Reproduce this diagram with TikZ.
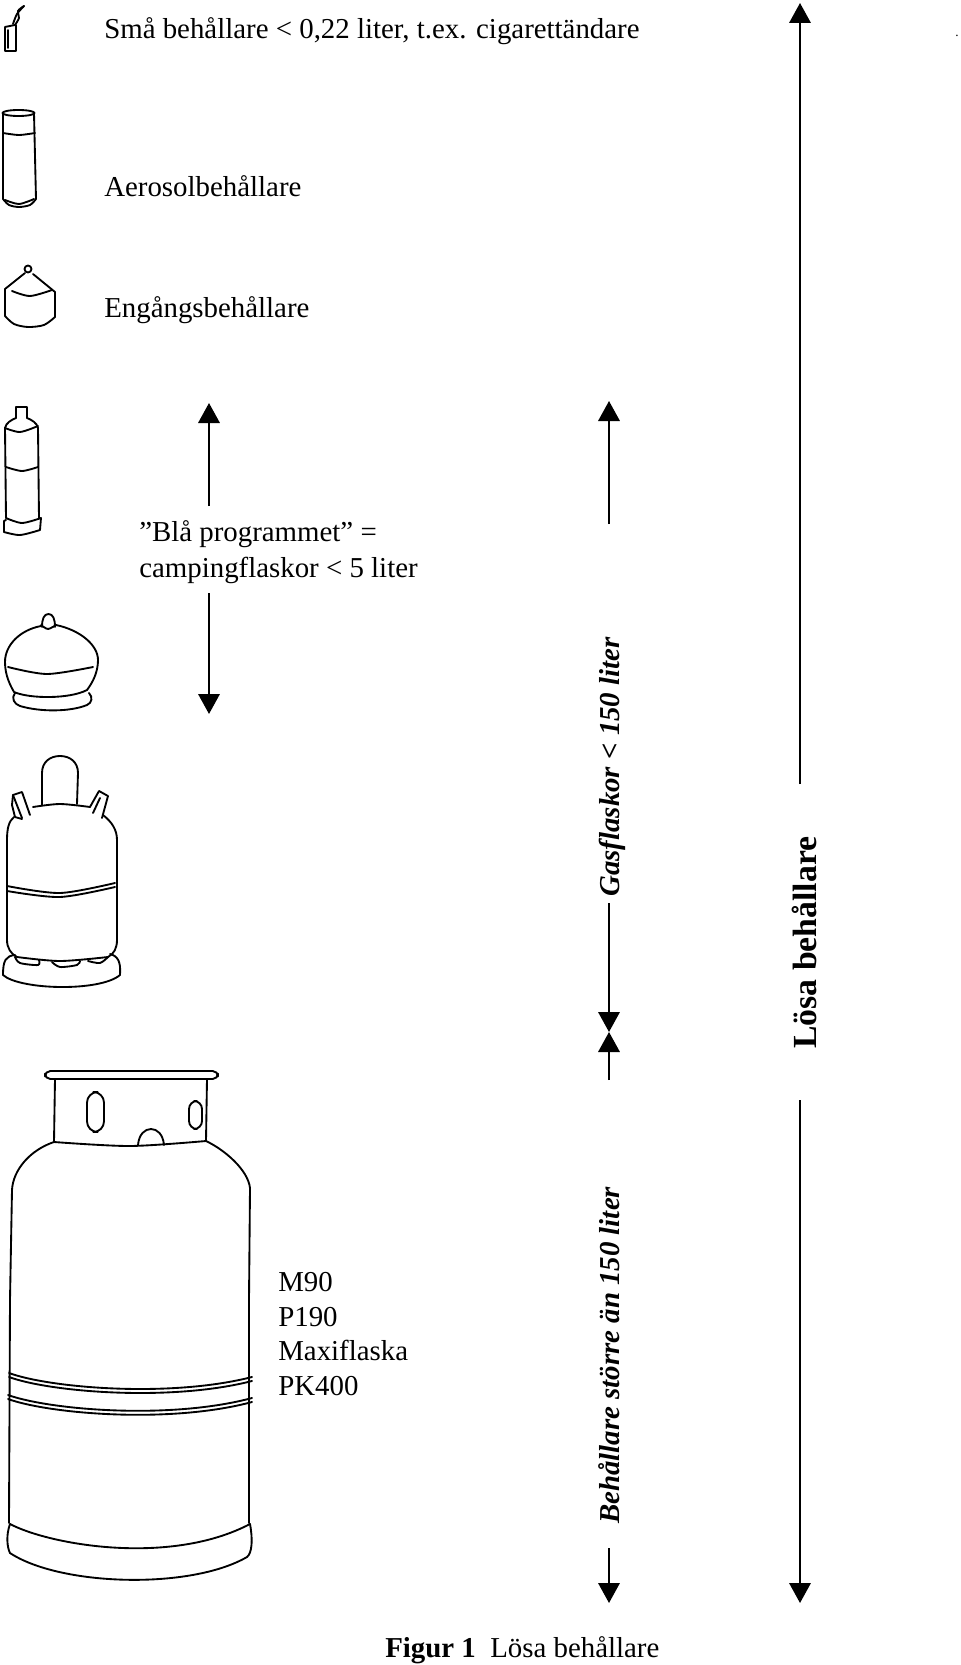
\documentclass[tikz,border=0pt]{standalone}
\usepackage{fontspec}
\setmainfont{Liberation Serif}
\usetikzlibrary{arrows.meta}
\tikzset{
    label/.style={anchor=base west,inner sep=0pt,font=\fontsize{21.65}{26}\selectfont},
    sidelabel/.style={anchor=base west,inner sep=0pt,rotate=90},
    sizearrow/.style={line width=1.8pt,-{Triangle[width=16pt,length=15pt]}},
    flask/.style={line width=1.4pt,line join=round,line cap=round},
}
\begin{document}
\begin{tikzpicture}[x=0.75pt,y=-0.75pt]
    \useasboundingbox (0,0) rectangle (960,1665);
    %% Lighter
    \draw[flask] (15,25) -- (5,27) -- (5,51) -- (16,51) -- (16,25);
    \draw[flask] (8,30) -- (8,48);
    \draw[flask] plot[smooth] coordinates {(13,24) (17,14) (24,6)};
    \draw[flask] plot[smooth] coordinates {(15,25) (19,18) (18,11) (24,6)};
    %% Aerosol
    \draw[flask] (18.5,113) ellipse (16 and 3);
    \draw[flask] (3,113) -- (3,199);
    \draw[flask] (34,113) -- (36,199);
    \draw[flask] plot[smooth] coordinates {(3,133) (19,135) (35,133)};
    \draw[flask] plot[smooth] coordinates {(3,199) (9,205) (19,207) (30,205) (36,199)};
    \draw[flask] plot[smooth] coordinates {(5,200) (19,204) (34,199)};
    %% Disposable
    \draw[flask] (28,269) circle (3.5);
    \draw[flask] (25,273) -- (5,289) -- (5,316);
    \draw[flask] plot[smooth] coordinates {(5,316) (14,324) (28,327) (44,325) (55,317)};
    \draw[flask] (55,317) -- (55,292) -- (33,274);
    \draw[flask] plot[smooth] coordinates {(12,291) (30,296) (52,290)};
    %% Camping tall
    \draw[flask] (16,418) -- (16,407) -- (27,407) -- (27,418);
    \draw[flask] (5,428) .. controls (6,423) and (11,420) .. (16,418);
    \draw[flask] (27,418) .. controls (32,420) and (37,423) .. (38,428);
    \draw[flask] (5,428) -- (6,518);
    \draw[flask] (38,428) -- (39,518);
    \draw[flask] plot[smooth] coordinates {(5,428) (20,432) (38,426)};
    \draw[flask] plot[smooth] coordinates {(6,467) (22,471) (38,467)};
    \draw[flask] plot[smooth] coordinates {(6,518) (22,523) (41,518)};
    \draw[flask] (6,520) -- (4,521) -- (4,532);
    \draw[flask] plot[smooth] coordinates {(4,532) (20,535) (40,530)};
    \draw[flask] (40,530) -- (41,518);
    %% Camping round
    \draw[flask] (42,627) .. controls (42,619) and (44,614) .. (48.5,614) .. controls (53,614) and (55,619) .. (55,627);
    \draw[flask] plot[smooth] coordinates {(41,625) (48,629) (56,625)};
    \draw[flask] (41,626) .. controls (20,630) and (5,645) .. (5,662) .. controls (5,675) and (10,685) .. (14,692) .. controls (30,699) and (70,699) .. (87,690) .. controls (93,682) and (98,672) .. (98,660) .. controls (98,645) and (80,630) .. (56,625);
    \draw[flask] plot[smooth] coordinates {(8,667) (47,674) (93,667)};
    \draw[flask] (15,693) .. controls (11,698) and (14,704) .. (20,706) .. controls (40,712) and (70,712) .. (87,705) .. controls (92,703) and (93,697) .. (89,693);
    %% Medium bottle
    \draw[flask] (42,805) -- (42,773) .. controls (42,762) and (50,756) .. (60,756) .. controls (70,756) and (78,762) .. (78,773) -- (77,804);
    \draw[flask] (14,817) .. controls (9,821) and (7,828) .. (7,840) -- (7,940) .. controls (7,948) and (11,954) .. (17,957);
    \draw[flask] (103,815) .. controls (112,822) and (117,830) .. (117,840) -- (117,940) .. controls (117,948) and (114,954) .. (108,957);
    \draw[flask] plot[smooth] coordinates {(33,807) (60,804) (90,807)};
    \draw[flask] (30,815) -- (22,792) -- (13,795) -- (12,805) -- (15,817) -- (22,819);
    \draw[flask] (13,795) -- (22,818);
    \draw[flask] (90,807) -- (99,791) -- (108,796) -- (102,818);
    \draw[flask] (100,798) -- (93,813);
    \draw[flask] plot[smooth] coordinates {(7,886) (60,893) (115,883)};
    \draw[flask] plot[smooth] coordinates {(7,891) (60,897) (115,887)};
    \draw[flask] plot[smooth] coordinates {(17,957) (60,961) (108,957)};
    \draw[flask] plot[smooth] coordinates {(15,957) (20,963) (38,965) (39,960)};
    \draw[flask] plot[smooth] coordinates {(52,962) (60,967) (77,965) (80,961)};
    \draw[flask] plot[smooth] coordinates {(88,961) (100,963) (108,957)};
    \draw[flask] (15,955) .. controls (6,956) and (3,960) .. (3,975) .. controls (20,990) and (100,992) .. (120,975) .. controls (121,962) and (118,956) .. (110,954);
    %% Large bottle
    \draw[flask,rounded corners=4] (45,1071) rectangle (218,1079);
    \draw[flask] (55,1079) -- (54,1142);
    \draw[flask] (207,1079) -- (206,1141);
    \draw[flask] plot[smooth] coordinates {(54,1142) (130,1146) (206,1141)};
    \draw[flask,rounded corners=8] (87,1092) rectangle (104,1132);
    \draw[flask,rounded corners=6] (189,1101) rectangle (202,1129);
    \draw[flask] (138,1145) .. controls (139,1134) and (145,1129) .. (151,1129) .. controls (157,1129) and (163,1134) .. (164,1145);
    \draw[flask] (54,1142) .. controls (30,1150) and (13,1170) .. (12,1190) -- (10,1300) -- (9,1523);
    \draw[flask] (206,1141) .. controls (225,1150) and (248,1170) .. (250,1188) -- (249,1300) -- (249,1523);
    \draw[flask] (9,1373) .. controls (50,1388) and (170,1398) .. (252,1377);
    \draw[flask] (9,1377) .. controls (50,1392) and (170,1402) .. (252,1381);
    \draw[flask] (8,1395) .. controls (50,1410) and (170,1420) .. (252,1398);
    \draw[flask] (8,1399) .. controls (50,1414) and (170,1424) .. (252,1402);
    \draw[flask] (10,1524) .. controls (50,1545) and (170,1566) .. (250,1524);
    \draw[flask] (10,1524) .. controls (6,1535) and (7,1547) .. (10,1553) .. controls (60,1586) and (190,1590) .. (247,1557) .. controls (252,1553) and (253,1540) .. (250,1524);
    %% Labels
    \node[label] (small) at (104,39) {Små behållare < 0,22 liter, t.ex. cigarettändare};
    \node[label,font=\fontsize{10}{12}\selectfont] (dot) at (955,37) {.};
    \node[label] (aerosol) at (104,197) {Aerosolbehållare};
    \node[label] (oneway) at (104,318) {Engångsbehållare};
    \node[label,align=left,anchor=north west,font=\fontsize{21.65}{27}\selectfont] (blue) at (139,520) {”Blå programmet” =\\campingflaskor < 5 liter};
    \node[label,align=left,anchor=north west] (types) at (278,1272) {M90\\P190\\Maxiflaska\\PK400};
    \node[label] (caption) at (385,1657) {\textbf{Figur 1}\ \ Lösa behållare};
    \node[sidelabel,font=\fontsize{21.65}{26}\selectfont\bfseries\itshape] (gas) at (619,897) {Gasflaskor < 150 liter};
    \node[sidelabel,font=\fontsize{21.65}{26}\selectfont\bfseries\itshape] (big) at (619,1524) {Behållare större än 150 liter};
    \node[sidelabel,font=\fontsize{25.3}{28}\selectfont\bfseries] (loose) at (816,1049) {Lösa behållare};
    %% Arrow ends
    \coordinate (blueUpA) at (209,506);
    \coordinate (blueUpB) at (209,403);
    \coordinate (blueDownA) at (209,593);
    \coordinate (blueDownB) at (209,714);
    \coordinate (gasUpA) at (609,524);
    \coordinate (gasUpB) at (609,401);
    \coordinate (gasDownA) at (609,903);
    \coordinate (gasDownB) at (609,1032);
    \coordinate (bigUpA) at (609,1080);
    \coordinate (bigUpB) at (609,1032);
    \coordinate (bigDownA) at (609,1548);
    \coordinate (bigDownB) at (609,1603);
    \coordinate (looseUpA) at (800,784);
    \coordinate (looseUpB) at (800,3);
    \coordinate (looseDownA) at (800,1100);
    \coordinate (looseDownB) at (800,1603);
    %% Arrows
    \foreach \a/\b in {blueUpA/blueUpB,blueDownA/blueDownB,gasUpA/gasUpB,gasDownA/gasDownB,bigUpA/bigUpB,bigDownA/bigDownB,looseUpA/looseUpB,looseDownA/looseDownB}
        \draw[sizearrow] (\a) -- (\b);
\end{tikzpicture}
\end{document}
